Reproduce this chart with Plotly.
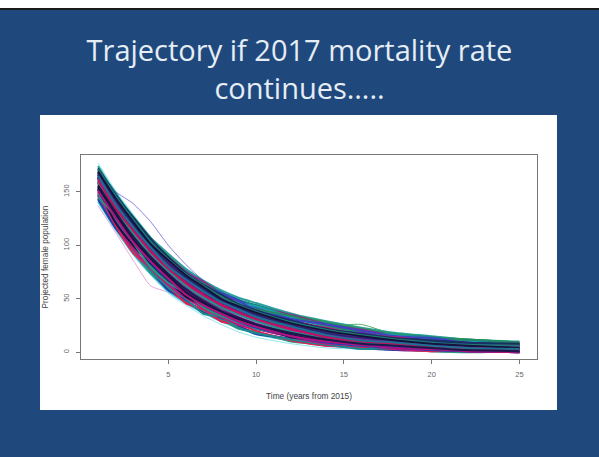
import plotly.graph_objects as go

years = [1, 2, 3, 4, 5, 6, 7, 8, 9, 10, 12, 14, 16, 18, 20, 22, 25]

# thin pale outlying runs
edge_01 = [177, 151, 129, 108, 90, 76, 64, 55, 47, 41, 30, 23, 18, 14, 12, 10, 9]
edge_02 = [165, 150, 139, 122, 100, 82, 67, 57, 47, 41, 30, 23, 17, 13, 10, 8, 6]
edge_03 = [170, 145, 123, 105, 90, 78, 67, 57, 48, 42, 31, 25, 26, 16, 12, 9, 7]
edge_04 = [160, 138, 118, 100, 85, 72, 61, 52, 46, 44, 37, 24, 16, 12, 10, 8, 6]
edge_05 = [137, 112, 86, 62, 56, 46, 37, 30, 24, 19, 12, 8, 5, 3, 2, 1, 1]
edge_06 = [146, 119, 94, 75, 55, 44, 34, 26, 19, 14, 8, 4, 3, 2, 1, 1, 0]

top_01 = [174, 148, 127, 107, 92, 78, 67, 58, 51, 46, 36, 29, 23, 18, 15, 12, 10]
top_02 = [168, 146, 125, 106, 90, 76, 65, 56, 49, 44, 35, 28, 22, 17, 14, 12, 9]
top_03 = [171, 149, 124, 104, 88, 76, 64, 55, 48, 44, 34, 27, 21, 16, 14, 10, 8]
top_04 = [163, 141, 122, 103, 89, 75, 66, 55, 47, 42, 35, 26, 21, 15, 12, 10, 9]
top_05 = [166, 143, 120, 105, 87, 73, 63, 56, 49, 41, 32, 26, 20, 14, 13, 11, 8]
top_06 = [160, 138, 119, 102, 85, 74, 62, 53, 46, 43, 33, 24, 18, 16, 12, 10, 7]
top_07 = [169, 145, 121, 100, 86, 72, 64, 54, 45, 40, 34, 25, 19, 14, 11, 12, 9]
top_08 = [158, 140, 123, 101, 84, 71, 61, 55, 48, 39, 31, 26, 20, 15, 13, 9, 7]
upper_01 = [155, 136, 117, 97, 83, 69, 60, 51, 44, 38, 30, 22, 17, 13, 11, 9, 7]
upper_02 = [159, 131, 116, 99, 81, 70, 58, 52, 42, 37, 28, 23, 16, 14, 10, 8, 6]
upper_03 = [152, 134, 112, 95, 82, 68, 59, 49, 43, 36, 29, 20, 18, 12, 9, 9, 5]
upper_04 = [164, 129, 114, 98, 80, 67, 57, 50, 41, 35, 27, 21, 15, 11, 10, 7, 6]
upper_05 = [172, 147, 126, 106, 89, 74, 63, 54, 45, 39, 29, 22, 17, 13, 11, 9, 8]
upper_06 = [168, 143, 121, 102, 85, 71, 60, 51, 43, 36, 26, 19, 14, 10, 8, 6, 5]
upper_07 = [171, 146, 124, 103, 87, 73, 62, 52, 44, 38, 28, 21, 16, 12, 9, 7, 6]
mid_01 = [166, 140, 118, 99, 82, 69, 58, 48, 41, 34, 24, 17, 12, 9, 7, 5, 4]
mid_02 = [163, 137, 115, 96, 79, 66, 55, 46, 38, 32, 22, 15, 11, 8, 6, 4, 3]
mid_03 = [160, 135, 113, 93, 77, 63, 52, 43, 36, 30, 20, 14, 10, 7, 5, 3, 2]
mid_04 = [158, 132, 110, 91, 74, 61, 50, 41, 33, 27, 18, 12, 8, 5, 4, 2, 1]
mid_05 = [162, 136, 112, 95, 78, 64, 53, 45, 37, 31, 21, 15, 10, 7, 6, 4, 3]
mid_06 = [167, 141, 120, 100, 83, 70, 59, 49, 42, 35, 25, 18, 13, 10, 7, 5, 4]
mid_07 = [159, 133, 111, 92, 76, 62, 51, 42, 35, 29, 19, 13, 9, 6, 5, 3, 2]
mid_08 = [164, 139, 116, 97, 81, 67, 56, 47, 39, 33, 23, 16, 12, 9, 6, 5, 3]
mid_09 = [169, 144, 122, 101, 86, 72, 61, 50, 43, 37, 27, 20, 15, 11, 8, 6, 4]
mid_10 = [161, 134, 114, 94, 78, 65, 54, 44, 37, 31, 22, 14, 10, 8, 5, 4, 2]
mid_11 = [165, 138, 117, 98, 80, 68, 57, 47, 40, 33, 24, 16, 11, 9, 6, 4, 3]
mid_12 = [156, 131, 108, 89, 73, 59, 48, 39, 32, 26, 18, 12, 8, 6, 4, 2, 1]
lower_01 = [149, 125, 102, 81, 66, 54, 43, 35, 28, 23, 16, 10, 7, 5, 3, 3, 2]
lower_02 = [153, 121, 100, 83, 67, 52, 44, 36, 30, 25, 14, 11, 8, 6, 4, 2, 2]
lower_03 = [145, 127, 103, 79, 65, 55, 42, 34, 29, 22, 17, 9, 6, 4, 5, 3, 1]
lower_04 = [155, 130, 107, 88, 72, 58, 47, 38, 31, 25, 16, 11, 7, 4, 3, 2, 1]
lower_05 = [152, 127, 104, 84, 68, 55, 44, 36, 29, 23, 15, 9, 6, 4, 2, 1, 1]
lower_06 = [153, 128, 106, 86, 70, 57, 45, 37, 30, 24, 16, 10, 7, 5, 3, 2, 2]
lower_07 = [154, 129, 105, 87, 71, 56, 46, 38, 31, 26, 17, 11, 8, 5, 4, 2, 1]
lower_08 = [151, 126, 103, 85, 69, 54, 44, 36, 29, 24, 15, 10, 7, 4, 3, 1, 0]
bottom_01 = [141, 115, 92, 73, 57, 46, 37, 29, 23, 17, 11, 7, 4, 3, 2, 1, 0]
bottom_02 = [144, 117, 94, 75, 59, 47, 38, 30, 24, 18, 12, 6, 5, 2, 1, 1, 0]
bottom_03 = [147, 120, 95, 74, 60, 48, 39, 31, 22, 19, 10, 7, 4, 3, 1, 0, 1]
bottom_04 = [143, 116, 97, 77, 58, 49, 37, 32, 25, 17, 13, 8, 4, 2, 2, 1, 0]
bottom_05 = [150, 119, 93, 78, 62, 46, 40, 29, 26, 20, 11, 6, 5, 3, 1, 2, 1]
bottom_06 = [146, 122, 98, 76, 61, 50, 36, 33, 23, 18, 12, 7, 3, 4, 2, 1, 0]
bottom_07 = [148, 124, 100, 82, 65, 52, 43, 35, 28, 22, 15, 10, 6, 4, 3, 1, 0]
bottom_08 = [147, 121, 97, 78, 63, 51, 41, 33, 26, 22, 14, 8, 6, 3, 2, 1, 1]

edge_lines = [edge_01, edge_02, edge_03, edge_04, edge_05, edge_06]
edge_colors = ["#8fe8ee", "#8a7fe0", "#55b060", "#e3b0d8", "#e3a8dd", "#8fe8ee"]

main_lines = [top_01, bottom_01, top_02, bottom_02, top_03, bottom_03, top_04, bottom_04,
              top_05, bottom_05, top_06, bottom_06, top_07, bottom_07, top_08, bottom_08,
              upper_01, lower_01, upper_02, lower_02, upper_03, lower_03, upper_04, lower_04,
              upper_05, lower_05, upper_06, lower_06, upper_07, lower_07, mid_01, lower_08,
              mid_02, mid_03, mid_04, mid_05, mid_06, mid_07, mid_08, mid_09, mid_10, mid_11, mid_12]
main_colors = ["#2aa0a0", "#40c8d8", "#2e9a58", "#d0208a", "#1a7f90", "#2a9a80", "#8a2a90", "#2040a8",
               "#2060b0", "#e02050", "#18a0a8", "#1a8a90", "#228a60", "#6020a8", "#4040c0", "#c01880",
               "#1b2a8a", "#1a8fa0", "#c81470", "#14123f", "#6020b0", "#2a9080", "#2030a0", "#c01060",
               "#17305f", "#2040b0", "#a0108a", "#7a18a0", "#1e7a70", "#14123f", "#5a1ea0", "#b01478",
               "#101030", "#1a7f9a", "#8a14a0", "#c81470", "#1b2f70", "#2a8f88", "#7a1a9a", "#14123f",
               "#c01060", "#1e6f90", "#18184a"]

x_ticks = [5, 10, 15, 20, 25]
y_ticks = [0, 50, 100, 150]

W, H = 599, 457
L, R, T, B = 81, 537, 155, 359


def px(v):
    return (v - L) / (R - L)


def py(v):
    return (B - v) / (B - T)


fig = go.Figure()
for values, color in zip(edge_lines, edge_colors):
    fig.add_trace(go.Scatter(x=years, y=values, mode="lines",
                             line=dict(color=color, width=1, shape="spline", smoothing=0.5),
                             hoverinfo="skip", showlegend=False))
for values, color in zip(main_lines, main_colors):
    fig.add_trace(go.Scatter(x=years, y=values, mode="lines",
                             line=dict(color=color, width=2, shape="spline", smoothing=0.5),
                             hoverinfo="skip", showlegend=False))

grey = "#666666"
axis_common = dict(showgrid=False, zeroline=False, showline=True, mirror=True, linecolor="#777777",
                   linewidth=1, ticks="outside", ticklen=4, tickcolor="#777777", tickwidth=1,
                   ticklabelstandoff=4,
                   tickfont=dict(family="Liberation Sans", size=7.5, color=grey))

fig.update_layout(
    width=W, height=H, autosize=False,
    margin=dict(l=L, r=W - R, t=T, b=H - B, pad=0),
    paper_bgcolor="#1f497d", plot_bgcolor="white",
    xaxis=dict(range=[0.03, 26.0], tickvals=x_ticks, **axis_common,
               title=dict(text="Time (years from 2015)", standoff=15,
                          font=dict(family="Liberation Sans", size=8.3, color="#444444"))),
    yaxis=dict(range=[-6.3, 184.4], tickvals=y_ticks, tickangle=-90, **axis_common,
               title=dict(text="Projected female population", standoff=12,
                          font=dict(family="Liberation Sans", size=8.3, color="#444444"))),
    title=dict(text="Trajectory if 2017 mortality rate<br>continues…..", x=0.5, xanchor="center",
               y=1 - 61 / H, yanchor="middle",
               font=dict(family="Open Sans", size=29, color="#e6edf5")),
    shapes=[
        dict(type="rect", xref="paper", yref="paper", x0=px(40), x1=px(557), y0=py(410), y1=py(115),
             fillcolor="white", line=dict(width=0), layer="below"),
        dict(type="rect", xref="paper", yref="paper", x0=px(0), x1=px(W), y0=py(8), y1=py(0),
             fillcolor="white", line=dict(width=0), layer="below"),
        dict(type="rect", xref="paper", yref="paper", x0=px(0), x1=px(W), y0=py(10), y1=py(8),
             fillcolor="#1a1a1a", line=dict(width=0), layer="below"),
    ],
)

fig.write_html("out.html", config=dict(displayModeBar=False),
               post_script="document.body.style.margin='0';")
